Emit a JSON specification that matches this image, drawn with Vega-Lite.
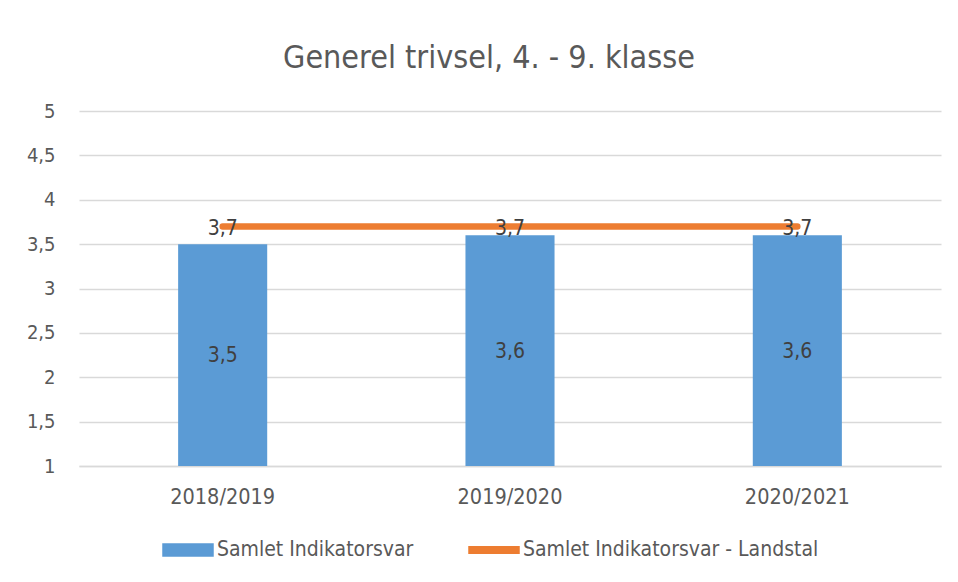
{
  "$schema": "https://vega.github.io/schema/vega-lite/v6.json",
  "width": 862,
  "height": 355,
  "padding": {"left": 9, "top": 42, "right": 17, "bottom": 5},
  "background": "white",
  "title": {
    "text": "Generel trivsel, 4. - 9. klasse",
    "fontSize": 32,
    "font": "DejaVu Sans Condensed, sans-serif",
    "fontWeight": "normal",
    "color": "#595959",
    "anchor": "middle",
    "frame": "bounds",
    "offset": 26,
    "dx": 14
  },
  "data": {
    "values": [
      {"year": "2018/2019", "value": 3.5, "landstal": 3.7},
      {"year": "2019/2020", "value": 3.6, "landstal": 3.7},
      {"year": "2020/2021", "value": 3.6, "landstal": 3.7}
    ]
  },
  "encoding": {
    "x": {
      "field": "year",
      "type": "nominal",
      "sort": null,
      "scale": {"paddingInner": 0.69, "paddingOuter": 0.345},
      "axis": {
        "title": null,
        "labelAngle": 0,
        "labelFontSize": 21.5,
        "labelColor": "#595959",
        "labelPadding": 20,
        "ticks": false,
        "domainColor": "#d9d9d9",
        "domainWidth": 1.5
      }
    }
  },
  "layer": [
    {
      "mark": {"type": "bar", "color": "#5b9bd5"},
      "encoding": {
        "y": {
          "field": "value",
          "type": "quantitative",
          "scale": {"domain": [1, 5], "zero": false, "nice": false},
          "axis": {
            "title": null,
            "values": [1, 1.5, 2, 2.5, 3, 3.5, 4, 4.5, 5],
            "format": ".1~f",
            "labelFontSize": 20,
            "labelColor": "#595959",
            "labelPadding": 24,
            "minExtent": 70,
            "maxExtent": 70,
            "ticks": false,
            "domain": false,
            "gridColor": "#d9d9d9",
            "gridWidth": 1.5
          }
        },
        "y2": {"datum": 1},
        "color": {
          "datum": "Samlet Indikatorsvar",
          "type": "nominal",
          "scale": {
            "domain": ["Samlet Indikatorsvar", "Samlet Indikatorsvar - Landstal"],
            "range": ["#5b9bd5", "#ed7d31"]
          },
          "legend": {
            "title": null,
            "orient": "none",
            "legendX": 83,
            "legendY": 413,
            "direction": "horizontal",
            "symbolSize": 2500,
            "labelFontSize": 21,
            "labelColor": "#595959",
            "labelOffset": 3,
            "labelLimit": 500,
            "columnPadding": 52,
            "labelFont": "DejaVu Sans Condensed, sans-serif",
            "encode": {
              "symbols": {
                "update": {
                  "shape": {"signal": "datum.value == 'Samlet Indikatorsvar' ? 'M-1,-0.24H1V0.24H-1Z' : 'M-1,-0.13H1V0.13H-1Z'"},
                  "fill": {"signal": "datum.value == 'Samlet Indikatorsvar' ? '#5b9bd5' : '#ed7d31'"},
                  "stroke": {"value": "transparent"},
                  "opacity": {"value": 1}
                }
              }
            }
          }
        }
      }
    },
    {
      "mark": {"type": "line", "strokeWidth": 6.5, "strokeCap": "round"},
      "encoding": {
        "y": {"field": "landstal", "type": "quantitative"},
        "color": {"datum": "Samlet Indikatorsvar - Landstal", "type": "nominal"}
      }
    },
    {
      "transform": [{"calculate": "(datum.value + 1) / 2", "as": "labelpos"}],
      "mark": {"type": "text", "fontSize": 21, "color": "#404040", "baseline": "middle", "dy": 1, "font": "DejaVu Sans Condensed, sans-serif"},
      "encoding": {
        "y": {"field": "labelpos", "type": "quantitative"},
        "text": {"field": "value", "type": "quantitative", "format": ".1f"}
      }
    },
    {
      "mark": {"type": "text", "fontSize": 21, "color": "#404040", "baseline": "middle", "dy": 3, "font": "DejaVu Sans Condensed, sans-serif"},
      "encoding": {
        "y": {"field": "landstal", "type": "quantitative"},
        "text": {"field": "landstal", "type": "quantitative", "format": ".1f"}
      }
    }
  ],
  "config": {
    "locale": {
      "number": {"decimal": ",", "thousands": ".", "grouping": [3], "currency": ["", " kr"]}
    },
    "font": "DejaVu Sans Condensed, sans-serif",
    "axis": {"labelFont": "DejaVu Sans Condensed, sans-serif"},
    "view": {"stroke": null}
  }
}
